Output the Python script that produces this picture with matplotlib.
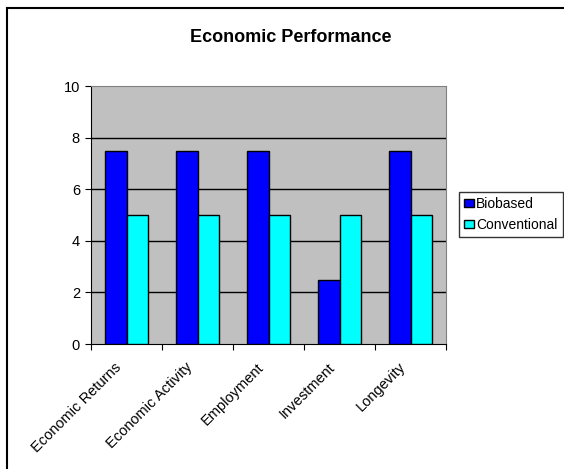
import matplotlib.pyplot as plt
import numpy as np
from matplotlib.patches import Rectangle
from matplotlib.transforms import ScaledTranslation

categories = ["Economic Returns", "Economic Activity", "Employment", "Investment", "Longevity"]
biobased = [7.5, 7.5, 7.5, 2.5, 7.5]
conventional = [5, 5, 5, 5, 5]

plt.rcParams["font.family"] = ["Liberation Sans", "DejaVu Sans"]

fig = plt.figure(figsize=(5.64, 4.69), dpi=100)
ax = fig.add_axes([91 / 564, 1 - 344 / 469, 355 / 564, 258 / 469])
ax.set_facecolor("#c0c0c0")

x = np.arange(len(categories))
w = 0.3
ax.bar(x - w / 2, biobased, w, color="#0000ff", edgecolor="black", linewidth=1, label="Biobased", zorder=3)
ax.bar(x + w / 2, conventional, w, color="#00ffff", edgecolor="black", linewidth=1, label="Conventional", zorder=3)

ax.set_xlim(-0.5, len(categories) - 0.5)
ax.set_ylim(0, 10)
ax.set_yticks(range(0, 11, 2))
for v in range(2, 10, 2):
    ax.axhline(v, color="black", linewidth=1, zorder=1)

# ticks between categories, category labels drawn at centres (Excel style)
ax.set_xticks(np.arange(-0.5, len(categories)))
ax.set_xticklabels([])
ax.tick_params(axis="x", length=4, direction="out", color="black")
ax.tick_params(axis="y", length=4, direction="out", labelsize=10.5, pad=4)
shift = ScaledTranslation(-12 / 100, -16 / 100, fig.dpi_scale_trans)
for xi, name in zip(x, categories):
    ax.text(xi, 0, name, transform=ax.get_xaxis_transform() + shift,
            rotation=45, ha="right", va="top", rotation_mode="anchor", fontsize=10.5)

for side in ["top", "right"]:
    ax.spines[side].set_color("#808080")
for side in ["left", "bottom"]:
    ax.spines[side].set_color("black")

fig.text(291 / 564, 1 - 38 / 469, "Economic Performance", ha="center", va="center",
         fontsize=13, fontweight="bold")

leg = fig.legend(loc="upper left", bbox_to_anchor=(459 / 564, 1 - 192 / 469),
                 fontsize=10, frameon=True, fancybox=False, edgecolor="black",
                 handlelength=0.7, handleheight=0.55, handletextpad=0.2,
                 borderpad=0.35, labelspacing=0.5, borderaxespad=0)
leg.get_frame().set_linewidth(1)

fig.patches.append(Rectangle((6.5 / 564, -0.1), 1.2, 1.1 - 8 / 469, transform=fig.transFigure,
                             fill=False, edgecolor="black", linewidth=1.5, clip_on=False))

fig.savefig("out.png", dpi=100)
